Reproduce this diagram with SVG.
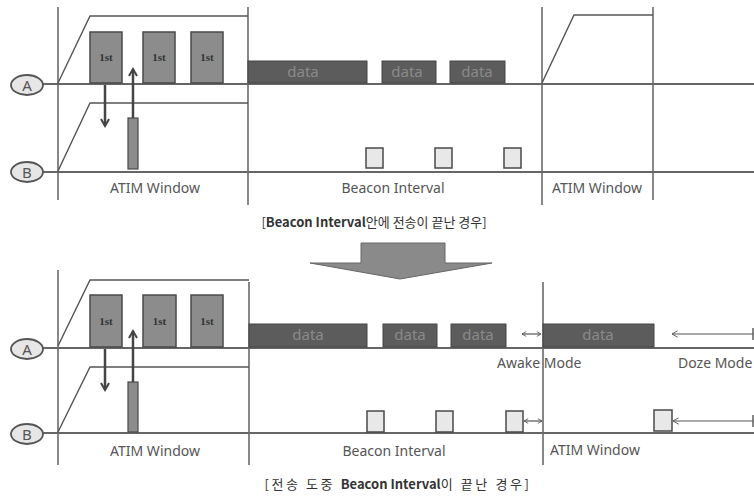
<svg xmlns="http://www.w3.org/2000/svg" width="754" height="499" viewBox="0 0 754 499">
<defs>
<marker id="ah" viewBox="0 0 10 10" refX="8" refY="5" markerWidth="4" markerHeight="4" orient="auto-start-reverse" markerUnits="strokeWidth">
<path d="M1,1 L8,5 L1,9" fill="none" stroke="#444" stroke-width="2"/>
</marker>
<marker id="sh" viewBox="0 0 10 10" refX="9" refY="5" markerWidth="6" markerHeight="6" orient="auto-start-reverse" markerUnits="userSpaceOnUse">
<path d="M2,1 L9,5 L2,9" fill="none" stroke="#555" stroke-width="1.4"/>
</marker>
<marker id="lh" viewBox="0 0 10 10" refX="1" refY="5" markerWidth="8" markerHeight="8" orient="auto" markerUnits="userSpaceOnUse">
<path d="M8,1 L1,5 L8,9" fill="none" stroke="#555" stroke-width="1.2"/>
</marker>
</defs>
<style>
.vl{stroke:#555;stroke-width:1.4;fill:none}
.tl{stroke:#666;stroke-width:2;fill:none}
.rp{stroke:#555;stroke-width:1.4;fill:none}
.nd{fill:#e6e6e6;stroke:#555;stroke-width:1.8}
.nt{font-family:"Noto Sans","DejaVu Sans",sans-serif;font-size:15px;fill:#555;text-anchor:middle}
.st{fill:#8c8c8c;stroke:#4a4a4a;stroke-width:1.5}
.stt{font-family:"Liberation Serif",serif;font-size:11px;fill:#333;text-anchor:middle;font-weight:bold}
.dt{fill:#5c5c5c;stroke:#444;stroke-width:1}
.dtt{font-family:"Noto Sans","DejaVu Sans",sans-serif;font-size:15px;fill:#8a8a8a;text-anchor:middle}
.sb{fill:#e8e8e8;stroke:#4a4a4a;stroke-width:1.5}
.bar{fill:#8c8c8c;stroke:#4a4a4a;stroke-width:1.2}
.lb{font-family:"Noto Sans","DejaVu Sans",sans-serif;font-size:14px;fill:#555}
.cap{font-family:"Noto Sans CJK KR","Noto Sans",sans-serif;font-size:13px;fill:#333;text-anchor:middle}
.ar{stroke:#444;stroke-width:2.5;fill:none}
.sa{stroke:#555;stroke-width:1.2;fill:none}
</style>

<!-- TOP DIAGRAM -->
<g id="top-frame">
<line class="vl" x1="58" y1="7" x2="58" y2="200"/>
<line class="vl" x1="248" y1="7" x2="248" y2="205"/>
<line class="vl" x1="542" y1="7" x2="542" y2="205"/>
<line class="vl" x1="653" y1="7" x2="653" y2="200"/>
<line class="tl" x1="43" y1="84" x2="754" y2="84"/>
<line class="tl" x1="43" y1="172" x2="754" y2="172"/>
<polyline class="rp" points="58,83 90,16 248,16"/>
<polyline class="rp" points="58,171 90,103 248,103"/>
<polyline class="rp" points="542,83 574,15 653,15"/>
</g>
<g id="top-A">
<ellipse class="nd" cx="27" cy="85" rx="16" ry="10"/>
<text class="nt" x="27" y="90.5">A</text>
</g>
<g id="top-B">
<ellipse class="nd" cx="27" cy="172" rx="16" ry="10"/>
<text class="nt" x="27" y="177.5">B</text>
</g>
<g id="top-1st-1"><rect class="st" x="90" y="32" width="32" height="51"/><text class="stt" x="106" y="61">1st</text></g>
<g id="top-1st-2"><rect class="st" x="143" y="32" width="32" height="51"/><text class="stt" x="159" y="61">1st</text></g>
<g id="top-1st-3"><rect class="st" x="191" y="32" width="32" height="51"/><text class="stt" x="207" y="61">1st</text></g>
<g id="top-bar"><rect class="bar" x="128" y="118" width="10" height="51"/></g>
<g id="top-data-1"><rect class="dt" x="248" y="61" width="119" height="22"/><text class="dtt" x="303" y="77">data</text></g>
<g id="top-data-2"><rect class="dt" x="382" y="61" width="54" height="22"/><text class="dtt" x="407" y="77">data</text></g>
<g id="top-data-3"><rect class="dt" x="450" y="61" width="55" height="22"/><text class="dtt" x="477" y="77">data</text></g>
<g id="top-b-1"><rect class="sb" x="366" y="148" width="17" height="20"/></g>
<g id="top-b-2"><rect class="sb" x="435" y="148" width="17" height="20"/></g>
<g id="top-b-3"><rect class="sb" x="504" y="148" width="17" height="20"/></g>
<g id="top-labels">
<text class="lb" x="155" y="193" text-anchor="middle">ATIM Window</text>
<text class="lb" x="393" y="193" text-anchor="middle">Beacon Interval</text>
<text class="lb" x="597" y="193" text-anchor="middle">ATIM Window</text>
<text class="cap" x="374" y="227">[<tspan font-weight="bold">Beacon Interval</tspan>안에 전송이 끝난 경우]</text>
</g>

<g id="big-arrow">
<polygon points="361,243 445,243 445,263 492,263 400,279 310,263 361,263" fill="#8a8a8a" stroke="#666" stroke-width="1"/>
</g>

<!-- BOTTOM DIAGRAM -->
<g id="bot-frame">
<line class="vl" x1="58" y1="270" x2="58" y2="465"/>
<line class="vl" x1="249" y1="282" x2="249" y2="465"/>
<line class="vl" x1="543" y1="282" x2="543" y2="465"/>
<line class="tl" x1="43" y1="348" x2="754" y2="348"/>
<line class="tl" x1="43" y1="433" x2="754" y2="433"/>
<polyline class="rp" points="58,346 90,280 249,280"/>
<polyline class="rp" points="58,432 90,367 249,367"/>
<line class="vl" x1="753" y1="328" x2="753" y2="340"/>
<line class="vl" x1="753" y1="415" x2="753" y2="427"/>
</g>
<g id="bot-A">
<ellipse class="nd" cx="27" cy="349" rx="16" ry="10"/>
<text class="nt" x="27" y="354.5">A</text>
</g>
<g id="bot-B">
<ellipse class="nd" cx="27" cy="434" rx="16" ry="10"/>
<text class="nt" x="27" y="439.5">B</text>
</g>
<g id="bot-1st-1"><rect class="st" x="90" y="295" width="32" height="52"/><text class="stt" x="106" y="325">1st</text></g>
<g id="bot-1st-2"><rect class="st" x="143" y="295" width="33" height="52"/><text class="stt" x="159.5" y="325">1st</text></g>
<g id="bot-1st-3"><rect class="st" x="191" y="295" width="32" height="52"/><text class="stt" x="207" y="325">1st</text></g>
<g id="bot-bar"><rect class="bar" x="128" y="382" width="10" height="50"/></g>
<g id="bot-data-1"><rect class="dt" x="249" y="324" width="118" height="23"/><text class="dtt" x="308" y="340">data</text></g>
<g id="bot-data-2"><rect class="dt" x="383" y="324" width="54" height="23"/><text class="dtt" x="410" y="340">data</text></g>
<g id="bot-data-3"><rect class="dt" x="451" y="324" width="55" height="23"/><text class="dtt" x="478" y="340">data</text></g>
<g id="bot-data-4"><rect class="dt" x="543" y="324" width="111" height="23"/><text class="dtt" x="598" y="340">data</text></g>
<g id="bot-b-1"><rect class="sb" x="367" y="411" width="17" height="21"/></g>
<g id="bot-b-2"><rect class="sb" x="436" y="411" width="17" height="21"/></g>
<g id="bot-b-3"><rect class="sb" x="506" y="411" width="17" height="21"/></g>
<g id="bot-b-4"><rect class="sb" x="654" y="410" width="18" height="21"/></g>
<g id="bot-labels">
<text class="lb" x="155" y="456" text-anchor="middle">ATIM Window</text>
<text class="lb" x="394" y="456" text-anchor="middle">Beacon Interval</text>
<text class="lb" x="550" y="455">ATIM Window</text>
<text class="lb" x="497" y="368">Awake Mode</text>
<text class="lb" x="678" y="368">Doze Mode</text>
<text class="cap" x="398" y="489"><tspan letter-spacing="2.6">[전송 도중 </tspan><tspan font-weight="bold">Beacon Interval</tspan><tspan letter-spacing="2.6">이 끝난 경우]</tspan></text>
</g>

<g id="connectors">
<line class="ar" x1="105" y1="85" x2="105" y2="126" marker-end="url(#ah)"/>
<line class="ar" x1="133" y1="118" x2="133" y2="69" marker-end="url(#ah)"/>
<line class="ar" x1="105" y1="349" x2="105" y2="390" marker-end="url(#ah)"/>
<line class="ar" x1="133" y1="382" x2="133" y2="331" marker-end="url(#ah)"/>
<line class="sa" x1="522" y1="334" x2="541" y2="334" marker-start="url(#sh)" marker-end="url(#sh)"/>
<line class="sa" x1="524" y1="421" x2="542" y2="421" marker-start="url(#sh)" marker-end="url(#sh)"/>
<line class="sa" x1="672" y1="334" x2="753" y2="334" marker-start="url(#lh)"/>
<line class="sa" x1="673" y1="421" x2="753" y2="421" marker-start="url(#lh)"/>
</g>
</svg>
